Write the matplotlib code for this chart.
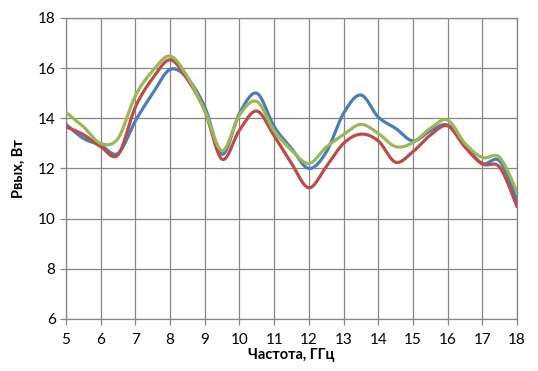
import numpy as np
import matplotlib.pyplot as plt

freq = [5, 5.5, 6, 6.5, 7, 7.5, 8, 8.5, 9, 9.5, 10, 10.5, 11, 11.5, 12,
        12.5, 13, 13.5, 14, 14.5, 15, 15.5, 16, 16.5, 17, 17.5, 18]
blue = [13.76, 13.2, 12.93, 12.6, 13.9, 15.0, 15.95, 15.6, 14.45, 12.57, 14.2, 15.0, 13.67, 12.8, 12.0,
        12.65, 14.2, 14.93, 14.05, 13.6, 13.1, 13.5, 13.73, 12.94, 12.2, 12.3, 10.74]
red = [13.66, 13.35, 12.87, 12.55, 14.45, 15.6, 16.33, 15.55, 14.3, 12.37, 13.53, 14.29, 13.3, 12.2, 11.23,
       12.07, 13.0, 13.37, 13.1, 12.25, 12.67, 13.33, 13.7, 12.85, 12.18, 12.05, 10.48]
green = [14.24, 13.67, 13.0, 13.2, 14.9, 15.9, 16.48, 15.66, 14.3, 12.71, 14.13, 14.67, 13.5, 12.73, 12.2,
         12.85, 13.35, 13.76, 13.4, 12.87, 13.03, 13.6, 13.93, 13.0, 12.44, 12.44, 11.07]

series = [(blue, '#4A7EBB'), (red, '#BE4B48'), (green, '#98B954')]


def smooth(x, y, n=30):
    # Excel-like smoothed line: bezier with control points from neighbours
    x = np.asarray(x, float)
    y = np.asarray(y, float)
    pts = np.column_stack([x, y])
    out = []
    for i in range(len(pts) - 1):
        p0 = pts[max(i - 1, 0)]
        p1 = pts[i]
        p2 = pts[i + 1]
        p3 = pts[min(i + 2, len(pts) - 1)]
        c1 = p1 + (p2 - p0) / 6
        c2 = p2 - (p3 - p1) / 6
        t = np.linspace(0, 1, n)[:, None]
        seg = ((1 - t) ** 3 * p1 + 3 * (1 - t) ** 2 * t * c1
               + 3 * (1 - t) * t ** 2 * c2 + t ** 3 * p2)
        out.append(seg if i == 0 else seg[1:])
    out = np.vstack(out)
    return out[:, 0], out[:, 1]


plt.rcParams['font.family'] = ['Lato', 'DejaVu Sans']
fig = plt.figure(figsize=(5.38, 3.71), dpi=100)
ax = fig.add_axes([0.1227, 0.1402, 0.8383, 0.8113])

for vals, col in series:
    sx, sy = smooth(freq, vals)
    ax.plot(sx, sy, color=col, lw=2.3, solid_capstyle='round', zorder=3)

ax.set_xlim(5, 18)
ax.set_ylim(6, 18)
ax.set_xticks(range(5, 19))
ax.set_yticks(range(6, 19, 2))
ax.grid(True, color='#868686', lw=0.9)
for s in ax.spines.values():
    s.set_color('#868686')
    s.set_linewidth(0.9)
ax.tick_params(colors='#868686', labelcolor='black', labelsize=11, length=4, width=0.9)
ax.tick_params(axis='x', pad=6)
ax.set_xlabel('Частота, ГГц', fontsize=10.5, fontweight='bold', labelpad=1)
ax.set_ylabel('Pвых, Вт', fontsize=10.5, fontweight='bold', labelpad=9)

fig.savefig('out.png', dpi=100)
